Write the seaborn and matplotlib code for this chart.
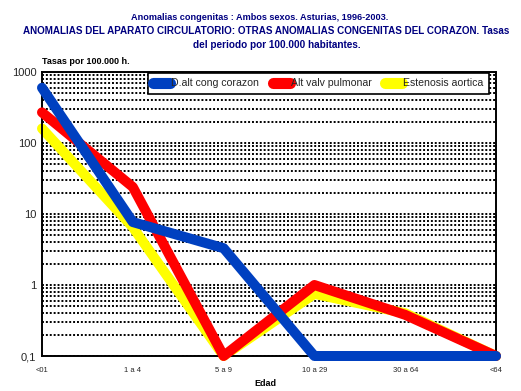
import matplotlib
matplotlib.use("Agg")
import matplotlib.pyplot as plt
import seaborn as sns
import pandas as pd
import numpy as np
from matplotlib.ticker import LogLocator, NullFormatter
from matplotlib.lines import Line2D

categories = ["<01", "1 a 4", "5 a 9", "10 a 29", "30 a 64", "<64"]
blue_vals = [600, 7.7, 3.3, 0.1, 0.1, 0.1]
red_vals = [270, 24, 0.1, 1.0, 0.38, 0.1]
yellow_vals = [160, 6.5, 0.1, 0.75, 0.4, 0.1]
series_names = ["D.alt cong corazon", "Alt valv pulmonar", "Estenosis aortica"]
colors = ["#0040C0", "#FF0000", "#FFFF00"]

rows = []
for name, vals in zip(series_names, [blue_vals, red_vals, yellow_vals]):
    for i, v in enumerate(vals):
        rows.append({"x": i, "cat": categories[i], "serie": name, "valor": v})
df = pd.DataFrame(rows)

sns.set_style("white")
plt.rcParams['font.family'] = ['Liberation Sans', 'DejaVu Sans']

fig = plt.figure(figsize=(5.21, 3.91), dpi=100)
ax = fig.add_axes([42/521, 1-356/391, (496-42)/521, (356-72)/391])

# draw order: yellow, red, blue (blue on top)
for name, col, z in zip(series_names[::-1], colors[::-1], [2, 3, 4]):
    sub = df[df["serie"] == name]
    sns.lineplot(data=sub, x="x", y="valor", ax=ax, color=col, linewidth=7.2,
                 sort=False, zorder=z, solid_capstyle='round', solid_joinstyle='round',
                 clip_on=False)

ax.set_yscale("log")
ax.set_ylim(0.1, 1000)
ax.set_xlim(0, len(categories)-1)
ax.set_xticks(range(len(categories)))
ax.set_xticklabels(categories, fontsize=5.5)
ax.set_yticks([0.1, 1, 10, 100, 1000])
ax.set_yticklabels(["0,1", "1", "10", "100", "1000"], fontsize=8)
ax.yaxis.set_minor_locator(LogLocator(base=10, subs=np.arange(2, 10)))
ax.yaxis.set_minor_formatter(NullFormatter())
ax.tick_params(axis='both', which='both', length=0, pad=4)
ax.tick_params(axis='x', pad=8)
ax.yaxis.grid(True, which='both', linestyle=(0, (1, 1)), color='black', linewidth=1.4, zorder=0)
ax.xaxis.grid(False)
ax.set_axisbelow(True)
for s in ax.spines.values():
    s.set_linestyle((0, (1, 1)))
    s.set_linewidth(1.4)
    s.set_color('black')
ax.set_xlabel("")
ax.set_ylabel("")

handles = [Line2D([0], [0], color=c, linewidth=8, solid_capstyle='round') for c in colors]
leg = ax.legend(handles, series_names, loc='upper left', bbox_to_anchor=((147-42)/454, 1.0),
                ncol=3, fontsize=7.6, frameon=True, fancybox=False, edgecolor='black',
                handlelength=1.6, handletextpad=0.1, columnspacing=1.3, borderpad=0.5,
                borderaxespad=0.1)
leg.get_frame().set_linewidth(1.2)
leg.get_frame().set_facecolor('white')
leg.get_frame().set_alpha(1)
leg.set_zorder(10)

tc = "#000080"
fig.text(260/521, 1-17/391, "Anomalias congenitas : Ambos sexos. Asturias, 1996-2003.",
         ha='center', va='center', fontsize=6.6, fontweight='bold', color=tc)
fig.text(23/521, 1-31/391, "ANOMALIAS DEL APARATO CIRCULATORIO: OTRAS ANOMALIAS CONGENITAS DEL CORAZON. Tasas",
         ha='left', va='center', fontsize=7.1, fontweight='bold', color=tc)
fig.text(277/521, 1-45/391, "del periodo por 100.000 habitantes.",
         ha='center', va='center', fontsize=7.2, fontweight='bold', color=tc)
fig.text(42/521, 1-62/391, "Tasas por 100.000 h.", ha='left', va='center', fontsize=6.5,
         fontweight='bold', color='black')
fig.text(265/521, 1-383/391, "Edad", ha='center', va='center', fontsize=6.5,
         fontweight='bold', color='black')

fig.savefig("out.png", dpi=100)
